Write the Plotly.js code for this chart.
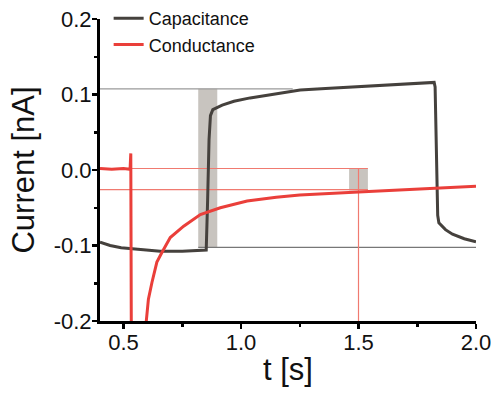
<!DOCTYPE html>
<html>
<head>
<meta charset="utf-8">
<script src="https://cdn.plot.ly/plotly-3.0.1.min.js"></script>
<style>
  html, body { margin: 0; padding: 0; background: #fff; }
  #chart { width: 496px; height: 394px; }
</style>
</head>
<body>
<div id="chart"></div>
<script>
// Time base and recorded currents (nA)
const capT = [0.400, 0.443, 0.490, 0.528, 0.600, 0.656, 0.750, 0.847, 0.852, 0.858, 0.864, 0.870, 0.880, 0.920, 0.970, 1.039, 1.150, 1.252, 1.360, 1.465, 1.570, 1.678, 1.760, 1.822, 1.826, 1.832, 1.837, 1.842, 1.870, 1.900, 1.950, 2.000];
const capI = [-0.0955, -0.100, -0.103, -0.104, -0.106, -0.1075, -0.1075, -0.107, -0.106, -0.040, 0.040, 0.072, 0.080, 0.086, 0.091, 0.0955, 0.101, 0.106, 0.108, 0.110, 0.112, 0.114, 0.1155, 0.116, 0.110, 0.000, -0.060, -0.070, -0.079, -0.085, -0.091, -0.095];

const condT = [0.400, 0.450, 0.500, 0.528, 0.531, 0.535, 0.560, 0.585, 0.597, 0.606, 0.621, 0.642, 0.664, 0.699, 0.756, 0.827, 0.912, 1.026, 1.150, 1.250, 1.500, 1.750, 2.000];
const condI = [0.002, 0.001, 0.002, 0.001, 0.022, -0.400, -0.450, -0.300, -0.200, -0.171, -0.149, -0.122, -0.109, -0.0895, -0.0744, -0.059, -0.050, -0.041, -0.036, -0.033, -0.029, -0.025, -0.0215];

// Analysis windows: [t0, t1, iLow, iHigh]
const capWindow = [0.818, 0.899, -0.1025, 0.1075];
const condWindow = [1.460, 1.540, -0.027, 0.002];

// Reference levels
const capHigh = 0.1075, capHighEnd = 1.22;
const capLow = -0.1025;
const condBase = 0.002, condLevel = -0.026, condMark = 1.5;

// Tick labels
const xTicks = [0.5, 1.0, 1.5, 2.0];
const xLabels = ['0.5', '1.0', '1.5', '2.0'];
const yTicks = [-0.2, -0.1, 0.0, 0.1, 0.2];
const yLabels = ['-0.2', '-0.1', '0.0', '0.1', '0.2'];

const capColor = '#45413d';
const condColor = '#ea3f3a';
const shade = '#c8c4bf';
const xMin = 0.4, xMax = 2.0;

const traces = [
  { x: capT, y: capI, mode: 'lines', name: 'Capacitance',
    line: { color: capColor, width: 3 } },
  { x: condT, y: condI, mode: 'lines', name: 'Conductance',
    line: { color: condColor, width: 3 } }
];

const shapes = [
  { type: 'rect', xref: 'x', yref: 'y', layer: 'below',
    x0: capWindow[0], x1: capWindow[1], y0: capWindow[2], y1: capWindow[3],
    fillcolor: shade, line: { width: 0 } },
  { type: 'rect', xref: 'x', yref: 'y', layer: 'below',
    x0: condWindow[0], x1: condWindow[1], y0: condWindow[2], y1: condWindow[3],
    fillcolor: shade, line: { width: 0 } },
  { type: 'line', xref: 'x', yref: 'y', layer: 'below',
    x0: xMin, x1: capHighEnd, y0: capHigh, y1: capHigh,
    line: { color: '#9a9a9a', width: 1.2 } },
  { type: 'line', xref: 'x', yref: 'y', layer: 'below',
    x0: capWindow[0], x1: xMax, y0: capLow, y1: capLow,
    line: { color: '#777', width: 1.2 } },
  { type: 'line', xref: 'x', yref: 'y', layer: 'below',
    x0: xMin, x1: condWindow[1], y0: condBase, y1: condBase,
    line: { color: '#f07a70', width: 1.2 } },
  { type: 'line', xref: 'x', yref: 'y', layer: 'below',
    x0: xMin, x1: condWindow[1], y0: condLevel, y1: condLevel,
    line: { color: '#f07a70', width: 1.2 } },
  { type: 'line', xref: 'x', yref: 'y', layer: 'below',
    x0: condMark, x1: condMark, y0: -0.2, y1: condBase,
    line: { color: '#f07a70', width: 1.2 } }
];

const axisFont = { family: 'Liberation Sans, Arial, sans-serif', size: 22, color: '#111' };
const titleFont = { family: 'Liberation Sans, Arial, sans-serif', size: 31, color: '#111' };

const layout = {
  width: 496, height: 394,
  margin: { l: 100, r: 20, t: 19, b: 73, autoexpand: false },
  paper_bgcolor: '#fff', plot_bgcolor: '#fff',
  showlegend: true,
  legend: {
    x: 0.023, xanchor: 'left', y: 1.063, yanchor: 'top',
    bgcolor: 'rgba(0,0,0,0)', borderwidth: 0,
    font: { family: 'Liberation Sans, Arial, sans-serif', size: 18, color: '#111' },
    tracegroupgap: 0
  },
  xaxis: {
    range: [xMin, xMax], showgrid: false, zeroline: false,
    showline: true, linecolor: '#000', linewidth: 3,
    tickmode: 'array', tickvals: xTicks, ticktext: xLabels,
    ticks: 'outside', ticklen: 5, tickwidth: 2.5, tickcolor: '#000',
    ticklabelstandoff: -5,
    minor: { tickmode: 'array', tickvals: [0.75, 1.25, 1.75], ticks: 'outside', ticklen: 3, tickwidth: 2.5, tickcolor: '#000' },
    tickfont: axisFont,
    title: { text: 't [s]', font: titleFont, standoff: 4 }
  },
  yaxis: {
    range: [-0.2, 0.2], showgrid: false, zeroline: false,
    showline: true, linecolor: '#000', linewidth: 3,
    tickmode: 'array', tickvals: yTicks, ticktext: yLabels,
    ticks: 'outside', ticklen: 5, tickwidth: 2.5, tickcolor: '#000',
    ticklabelstandoff: -4,
    minor: { tickmode: 'array', tickvals: [-0.15, -0.05, 0.05, 0.15], ticks: 'outside', ticklen: 3, tickwidth: 2.5, tickcolor: '#000' },
    tickfont: axisFont,
    title: { text: 'Current [nA]', font: titleFont, standoff: 10 }
  },
  shapes: shapes
};

Plotly.newPlot('chart', traces, layout, { displayModeBar: false, staticPlot: true });
</script>
</body>
</html>
